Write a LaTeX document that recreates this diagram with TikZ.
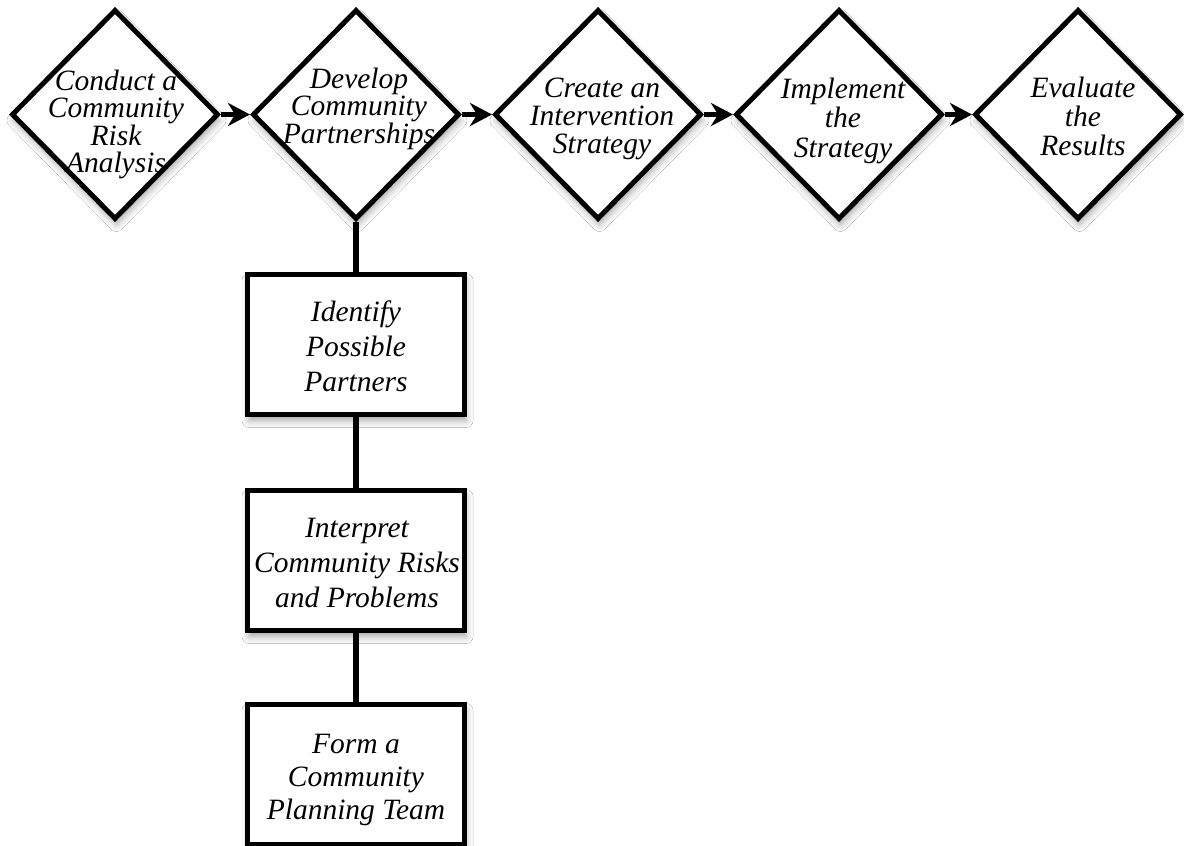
\documentclass[tikz,border=0pt]{standalone}
\usepackage{fontspec}
\setmainfont{Liberation Serif}
\usetikzlibrary{shapes.geometric,arrows.meta,shadows.blur}
\begin{document}
\begin{tikzpicture}[x=1pt,y=-1pt,
  shp/.style={draw=black, line width=5pt, fill=white,
    blur shadow={shadow xshift=1.5pt, shadow yshift=-6pt, shadow blur radius=7pt, shadow opacity=35}},
  dia/.style={shp, diamond, minimum width=207pt, minimum height=210pt, inner sep=0pt},
  procbox/.style={shp, rectangle, minimum width=217pt, minimum height=140pt, inner sep=0pt},
  dtxt/.style={align=center, inner sep=0pt, font=\itshape\fontsize{29.5}{#1}\selectfont},
  dtxt/.default=28,
  btxt/.style={align=center, inner sep=0pt, font=\itshape\fontsize{29.5}{#1}\selectfont},
  btxt/.default=35,
  flow/.style={line width=5pt, -{Stealth[length=22pt,width=23pt,inset=7pt]}},
  link/.style={line width=5.5pt}
]
\fill[white] (0,0) rectangle (1184,846);
\useasboundingbox (0,0) rectangle (1184,846);

% diamonds
\node[dia] (d1) at (115,114.5) {};
\node[dia] (d2) at (356,114.5) {};
\node[dia] (d3) at (598,114.5) {};
\node[dia] (d4) at (839,114.5) {};
\node[dia] (d5) at (1078,114.5) {};

\node[dtxt=27.5] (t1) at (116,124.2) {Conduct a\\Community\\Risk\\Analysis};
\node[dtxt=27.5] (t2) at (359,108.5) {Develop\\Community\\Partnerships};
\node[dtxt=28] (t3) at (602,118.5) {Create an\\Intervention\\Strategy};
\node[dtxt=29.5] (t4) at (843,120.7) {Implement\\the\\Strategy};
\node[dtxt=29] (t5) at (1083,116) {Evaluate\\the\\Results};

% boxes
\node[procbox] (b1) at (356,344.5) {};
\node[procbox] (b2) at (356,560.5) {};
\node[procbox] (b3) at (356,774.5) {};

\node[btxt=35] (s1) at (356,346) {Identify\\Possible\\Partners};
\node[btxt=35] (s2) at (357,563) {Interpret\\Community Risks\\and Problems};
\node[btxt=33] (s3) at (356,779.5) {Form a\\Community\\Planning Team};

% connectors
\draw[flow] (d1.east) -- (d2.west);
\draw[flow] (d2.east) -- (d3.west);
\draw[flow] (d3.east) -- (d4.west);
\draw[flow] (d4.east) -- (d5.west);
\draw[link] (d2.south) -- (b1.north);
\draw[link] (b1.south) -- (b2.north);
\draw[link] (b2.south) -- (b3.north);
\end{tikzpicture}
\end{document}
